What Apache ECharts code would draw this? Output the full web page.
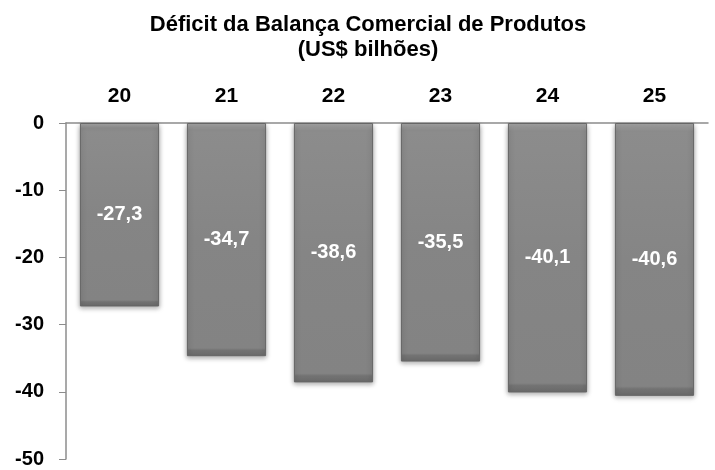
<!DOCTYPE html>
<html>
<head>
<meta charset="utf-8">
<script src="https://cdn.jsdelivr.net/npm/echarts@6/dist/echarts.min.js"></script>
<style>
  html, body { margin: 0; padding: 0; background: #fff; }
  #main { width: 715px; height: 470px; }
</style>
</head>
<body>
<div id="main"></div>
<script>
// dados do gráfico
var anos = ['20', '21', '22', '23', '24', '25'];
var deficit = [-27.3, -34.7, -38.6, -35.5, -40.1, -40.6];

var chart = echarts.init(document.getElementById('main'));
var fonte = '"Liberation Sans", Arial, sans-serif';

// efeito de relevo (topo claro, base escura)
var corBarra = new echarts.graphic.LinearGradient(0, 0, 0, 1, [
  { offset: 0, color: '#a8a8a8' },
  { offset: 0.03, color: '#8c8c8c' },
  { offset: 0.5, color: '#858585' },
  { offset: 0.965, color: '#838383' },
  { offset: 0.975, color: '#727272' },
  { offset: 1, color: '#6c6c6c' }
]);

var option = {
  animation: false,
  title: {
    text: 'Déficit da Balança Comercial de Produtos\n(US$ bilhões)',
    left: 363,
    textAlign: 'center',
    top: 7,
    textStyle: { fontFamily: fonte, fontSize: 22, fontWeight: 'bold', color: '#000', lineHeight: 25 }
  },
  grid: { left: 66, right: 7, top: 123, bottom: 11 },
  xAxis: {
    type: 'category',
    position: 'top',
    data: anos,
    axisLine: { lineStyle: { color: '#8c8c8c', width: 1.5 } },
    axisTick: { inside: true, length: 6, lineStyle: { color: '#8c8c8c' } },
    axisLabel: { margin: 16, fontFamily: fonte, fontSize: 21, fontWeight: 'bold', color: '#000' }
  },
  yAxis: {
    type: 'value',
    min: -50,
    max: 0,
    interval: 10,
    splitLine: { show: false },
    axisLine: { show: true, lineStyle: { color: '#8c8c8c', width: 1.5 } },
    axisTick: { show: true, length: 7, lineStyle: { color: '#8c8c8c' } },
    axisLabel: { margin: 22, fontFamily: fonte, fontSize: 20, fontWeight: 'bold', color: '#000' }
  },
  series: [{
    type: 'bar',
    data: deficit,
    barWidth: '74%',
    itemStyle: {
      color: corBarra,
      borderColor: '#666',
      borderWidth: 1,
      shadowBlur: 5,
      shadowColor: 'rgba(0,0,0,0.35)',
      shadowOffsetY: 2
    },
    label: {
      show: true,
      position: 'inside',
      fontFamily: fonte,
      fontSize: 20,
      fontWeight: 'bold',
      color: '#fff',
      formatter: function (p) { return String(p.value).replace('.', ','); }
    }
  }]
};

chart.setOption(option);
</script>
</body>
</html>
